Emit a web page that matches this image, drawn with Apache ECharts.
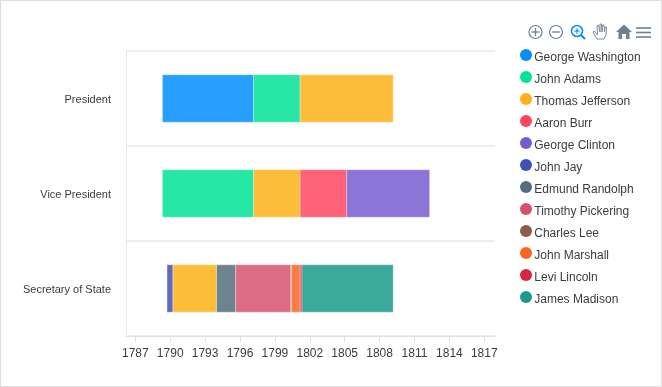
<!DOCTYPE html>
<html><head><meta charset="utf-8">
<style>html,body{margin:0;padding:0;background:#fff}#c{width:662px;height:387px}</style>
<script src="https://cdn.jsdelivr.net/npm/echarts@6/dist/echarts.min.js"></script>
</head><body><div id="c"></div>
<script>
const categories = ['President', 'Vice President', 'Secretary of State'];
const tickYears = [1787, 1790, 1793, 1796, 1799, 1802, 1805, 1808, 1811, 1814, 1817];
const people = ['George Washington','John Adams','Thomas Jefferson','Aaron Burr','George Clinton','John Jay','Edmund Randolph','Timothy Pickering','Charles Lee','John Marshall','Levi Lincoln','James Madison'];
const colors = ['#008FFB','#00E396','#FEB019','#FF4560','#775DD0','#3F51B5','#546E7A','#D4526E','#8D5B4C','#F86624','#D7263D','#1B998B'];
const georgeWashington = [[0, 1789.33, 1797.17]];
const johnAdams = [[0, 1797.17, 1801.17], [1, 1789.33, 1797.17]];
const thomasJefferson = [[0, 1801.17, 1809.17], [1, 1797.17, 1801.17], [2, 1790.22, 1793.99]];
const aaronBurr = [[1, 1801.17, 1805.17]];
const georgeClinton = [[1, 1805.17, 1812.3]];
const johnJay = [[2, 1789.73, 1790.22]];
const edmundRandolph = [[2, 1793.99, 1795.62]];
const timothyPickering = [[2, 1795.62, 1800.37]];
const charlesLee = [[2, 1800.37, 1800.42]];
const johnMarshall = [[2, 1800.42, 1801.17]];
const leviLincoln = [[2, 1801.17, 1801.33]];
const jamesMadison = [[2, 1801.33, 1809.17]];
const seriesData = [georgeWashington, johnAdams, thomasJefferson, aaronBurr, georgeClinton, johnJay, edmundRandolph, timothyPickering, charlesLee, johnMarshall, leviLincoln, jamesMadison];

function renderBar(params, api) {
  const a = api.coord([api.value(1), api.value(0)]);
  const b = api.coord([api.value(2), api.value(0)]);
  const h = api.size([0, 1])[1] * 0.5;
  return { type: 'rect',
    shape: { x: a[0], y: a[1] - h / 2, width: b[0] - a[0], height: h },
    style: { fill: api.visual('color'), opacity: 0.85, stroke: 'rgba(255,255,255,0.6)', lineWidth: 0.6 } };
}
const ic = '#6E8192';
const ln = (x1, y1, x2, y2, c, w) => ({ type: 'line', shape: { x1, y1, x2, y2 }, style: { stroke: c || ic, lineWidth: w || 1.3 } });
const toolbar = [
  { type: 'rect', shape: { x: 0.5, y: 0.5, width: 661, height: 386 }, style: { fill: 'none', stroke: '#dddddd', lineWidth: 1 } },
  { type: 'circle', shape: { cx: 535.5, cy: 32, r: 6.5 }, style: { fill: 'none', stroke: ic, lineWidth: 1.2 } },
  ln(531.5, 32, 539.5, 32), ln(535.5, 28, 535.5, 36),
  { type: 'circle', shape: { cx: 556, cy: 32, r: 6.5 }, style: { fill: 'none', stroke: ic, lineWidth: 1.2 } },
  ln(552, 32, 560, 32),
  { type: 'circle', shape: { cx: 577, cy: 31, r: 5.5 }, style: { fill: 'none', stroke: '#008FFB', lineWidth: 1.6 } },
  ln(581, 35, 585, 39, '#008FFB', 2), ln(574.5, 31, 579.5, 31, '#008FFB', 1.2), ln(577, 28.5, 577, 33.5, '#008FFB', 1.2),
  { type: 'polyline', shape: { points: [[593,32],[595,36],[597,39],[604,39],[606,35],[606.5,27],[605,27],[604.5,32],[604,25],[602.5,25],[602,32],[601.5,24],[600,24],[600,32],[598.5,25],[597,26],[597.5,35],[594.5,31],[593,32]] }, style: { fill: '#fff', stroke: '#7d8d9b', lineWidth: 1 } },
  { type: 'polygon', shape: { points: [[624,24.5],[632,32],[629.5,32],[629.5,39],[626,39],[626,34],[622,34],[622,39],[618.5,39],[618.5,32],[616,32]] }, style: { fill: ic } },
  ln(636, 28, 651, 28, ic, 1.6), ln(636, 32.5, 651, 32.5, ic, 1.6), ln(636, 37, 651, 37, ic, 1.6)
];
const chart = echarts.init(document.getElementById('c'), null, { renderer: 'canvas' });
chart.setOption({
  animation: false,
  color: colors,
  textStyle: { fontFamily: 'Liberation Sans' },
  grid: { left: 126, right: 167, top: 51, bottom: 51, containLabel: false },
  xAxis: { type: 'value', min: 1786.2, max: 1817.92,
    axisLine: { show: true, lineStyle: { color: '#e0e0e0', width: 1 } },
    axisTick: { show: true, length: 6, lineStyle: { color: '#e0e0e0' }, customValues: tickYears },
    axisLabel: { color: '#373d3f', fontSize: 12, margin: 12, customValues: tickYears, formatter: v => String(v), hideOverlap: false, showMinLabel: true, showMaxLabel: true },
    splitLine: { show: false } },
  yAxis: { type: 'category', inverse: true, data: categories,
    axisLine: { show: true, lineStyle: { color: '#e8e8e8', width: 1 } },
    axisTick: { show: false },
    axisLabel: { color: '#373d3f', fontSize: 11, margin: 15,
      formatter: v => `{s| }{t|${v}}`,
      rich: { s: { fontSize: 1, lineHeight: 16, height: 16 }, t: { fontSize: 11, lineHeight: 14, height: 14, verticalAlign: 'bottom', color: '#373d3f' } } },
    splitLine: { show: true, lineStyle: { color: '#eeeeee', width: 2 } } },
  legend: { orient: 'vertical', left: 520, top: 45, padding: 0, itemWidth: 12, itemHeight: 12, itemGap: 2, icon: 'circle',
    data: people, selectedMode: false,
    formatter: n => `{s| }{t|${n}}`,
    textStyle: { color: '#373d3f', fontSize: 12, padding: [0, 0, 0, -3],
      rich: { s: { fontSize: 1, lineHeight: 20, height: 20 }, t: { fontSize: 12, lineHeight: 14, height: 14, verticalAlign: 'bottom', color: '#373d3f' } } } },
  graphic: toolbar.map(g => Object.assign({ silent: true }, g)),
  series: people.map((name, i) => ({
    name, type: 'custom', data: seriesData[i], renderItem: renderBar,
    encode: { x: [1, 2], y: 0 }, itemStyle: { color: colors[i] }
  }))
});
</script></body></html>
